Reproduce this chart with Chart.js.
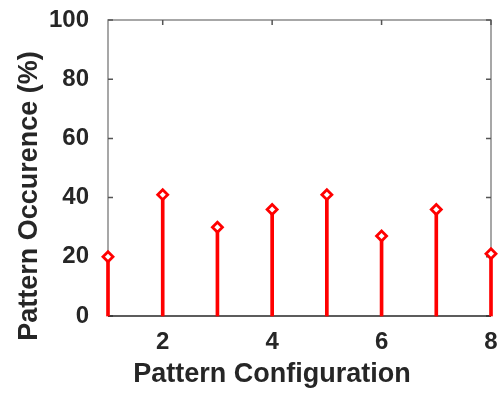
<!DOCTYPE html>
<html lang="en">
<head>
    <meta charset="UTF-8">
    <title>Pattern Occurence</title>
    <script src="https://cdn.jsdelivr.net/npm/chart.js"></script>
    <style>
        html, body { margin: 0; padding: 0; background: #fff; }
        #wrap { width: 500px; height: 394px; }
    </style>
</head>
<body>
    <div id="wrap"><canvas id="stemChart"></canvas></div>
    <script>
        // data
        const configs = [1, 2, 3, 4, 5, 6, 7, 8];
        const occurrence = [20, 41, 30, 36, 41, 27, 36, 21];
        const xTicks = [2, 4, 6, 8];
        const yTicks = [0, 20, 40, 60, 80, 100];
        const xTitle = 'Pattern Configuration';
        const yTitle = 'Pattern Occurence (%)';

        const points = configs.map((c, i) => ({ x: c, y: occurrence[i] }));
        const textColor = '#262626';
        const font = 'Liberation Sans, Arial, Helvetica, sans-serif';

        // box, inward ticks and the axis titles, drawn from the chart scales
        const matlabAxes = {
            id: 'matlabAxes',
            beforeDatasetsDraw(chart) {
                const { ctx, chartArea: a, scales } = chart;
                const xs = scales.x, ys = scales.y;
                ctx.save();
                ctx.strokeStyle = '#8a8a8a';
                ctx.lineWidth = 1.5;
                ctx.beginPath();
                ctx.moveTo(a.left, a.bottom); ctx.lineTo(a.left, a.top);
                ctx.lineTo(a.right, a.top); ctx.lineTo(a.right, a.bottom);
                ctx.stroke();
                ctx.strokeStyle = '#555';
                ctx.beginPath();
                yTicks.forEach(v => {
                    const y = ys.getPixelForValue(v);
                    ctx.moveTo(a.left, y); ctx.lineTo(a.left + 5, y);
                    ctx.moveTo(a.right, y); ctx.lineTo(a.right - 5, y);
                });
                xTicks.forEach(v => {
                    const x = xs.getPixelForValue(v);
                    ctx.moveTo(x, a.top); ctx.lineTo(x, a.top + 5);
                });
                ctx.stroke();
                ctx.strokeStyle = '#262626';
                ctx.lineWidth = 1.5;
                ctx.beginPath();
                ctx.moveTo(a.left, a.bottom); ctx.lineTo(a.right, a.bottom);
                ctx.stroke();
                ctx.restore();
            },
            afterDraw(chart) {
                const { ctx } = chart;
                ctx.save();
                ctx.fillStyle = textColor;
                ctx.font = 'bold 27px ' + font;
                ctx.textAlign = 'center';
                ctx.textBaseline = 'alphabetic';
                ctx.fillText(xTitle, 272, 382);
                ctx.translate(36.5, 196);
                ctx.rotate(-Math.PI / 2);
                ctx.fillText(yTitle, 0, 0);
                ctx.restore();
            }
        };

        new Chart(document.getElementById('stemChart'), {
            type: 'bar',
            data: {
                datasets: [{
                    type: 'scatter',
                    data: points,
                    pointStyle: 'rectRot',
                    pointRadius: 5,
                    pointHoverRadius: 5,
                    borderColor: '#ff0000',
                    backgroundColor: '#ffffff',
                    borderWidth: 2.8,
                    showLine: false,
                    clip: false
                }, {
                    type: 'bar',
                    data: points,
                    backgroundColor: '#ff0000',
                    barThickness: 3,
                    clip: false
                }]
            },
            plugins: [matlabAxes],
            options: {
                responsive: true,
                maintainAspectRatio: false,
                animation: false,
                layout: { padding: { left: 0, top: 20, right: 9, bottom: 0 } },
                plugins: { legend: { display: false }, tooltip: { enabled: false } },
                scales: {
                    x: {
                        type: 'linear',
                        min: 1,
                        max: 8,
                        offset: false,
                        afterBuildTicks: s => { s.ticks = xTicks.map(v => ({ value: v })); },
                        afterFit: s => {
                            s.height = 78;
                            s.paddingLeft = 0;
                            s.paddingRight = 0;
                        },
                        grid: { display: false, drawTicks: false },
                        border: { display: false },
                        ticks: {
                            color: textColor,
                            padding: 12,
                            maxRotation: 0,
                            font: { family: font, size: 24, weight: 'bold' }
                        }
                    },
                    y: {
                        min: 0,
                        max: 100,
                        afterBuildTicks: s => { s.ticks = yTicks.map(v => ({ value: v })); },
                        afterFit: s => {
                            s.width = 108;
                            s.paddingTop = 0;
                            s.paddingBottom = 0;
                        },
                        grid: { display: false, drawTicks: false },
                        border: { display: false },
                        ticks: {
                            color: textColor,
                            padding: 19,
                            font: { family: font, size: 24, weight: 'bold' }
                        }
                    }
                }
            }
        });
    </script>
</body>
</html>
